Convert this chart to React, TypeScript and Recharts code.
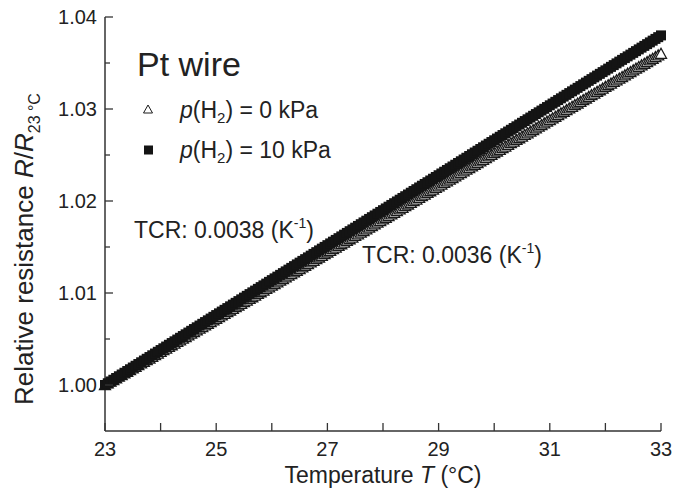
import { ScatterChart, Scatter, XAxis, YAxis } from "recharts";

// temperature (°C), one reading every 0.05 °C
const temps = [
  23.0, 23.05, 23.1, 23.15, 23.2, 23.25, 23.3, 23.35, 23.4, 23.45,
  23.5, 23.55, 23.6, 23.65, 23.7, 23.75, 23.8, 23.85, 23.9, 23.95,
  24.0, 24.05, 24.1, 24.15, 24.2, 24.25, 24.3, 24.35, 24.4, 24.45,
  24.5, 24.55, 24.6, 24.65, 24.7, 24.75, 24.8, 24.85, 24.9, 24.95,
  25.0, 25.05, 25.1, 25.15, 25.2, 25.25, 25.3, 25.35, 25.4, 25.45,
  25.5, 25.55, 25.6, 25.65, 25.7, 25.75, 25.8, 25.85, 25.9, 25.95,
  26.0, 26.05, 26.1, 26.15, 26.2, 26.25, 26.3, 26.35, 26.4, 26.45,
  26.5, 26.55, 26.6, 26.65, 26.7, 26.75, 26.8, 26.85, 26.9, 26.95,
  27.0, 27.05, 27.1, 27.15, 27.2, 27.25, 27.3, 27.35, 27.4, 27.45,
  27.5, 27.55, 27.6, 27.65, 27.7, 27.75, 27.8, 27.85, 27.9, 27.95,
  28.0, 28.05, 28.1, 28.15, 28.2, 28.25, 28.3, 28.35, 28.4, 28.45,
  28.5, 28.55, 28.6, 28.65, 28.7, 28.75, 28.8, 28.85, 28.9, 28.95,
  29.0, 29.05, 29.1, 29.15, 29.2, 29.25, 29.3, 29.35, 29.4, 29.45,
  29.5, 29.55, 29.6, 29.65, 29.7, 29.75, 29.8, 29.85, 29.9, 29.95,
  30.0, 30.05, 30.1, 30.15, 30.2, 30.25, 30.3, 30.35, 30.4, 30.45,
  30.5, 30.55, 30.6, 30.65, 30.7, 30.75, 30.8, 30.85, 30.9, 30.95,
  31.0, 31.05, 31.1, 31.15, 31.2, 31.25, 31.3, 31.35, 31.4, 31.45,
  31.5, 31.55, 31.6, 31.65, 31.7, 31.75, 31.8, 31.85, 31.9, 31.95,
  32.0, 32.05, 32.1, 32.15, 32.2, 32.25, 32.3, 32.35, 32.4, 32.45,
  32.5, 32.55, 32.6, 32.65, 32.7, 32.75, 32.8, 32.85, 32.9, 32.95,
  33.0,
];

// p(H2) = 0 kPa  (open triangles), TCR ≈ 0.0036 /K
const r0kPa = [
  1.0, 1.00018, 1.00036, 1.00054, 1.00072, 1.0009, 1.00108, 1.00126, 1.00144, 1.00162,
  1.0018, 1.00198, 1.00216, 1.00234, 1.00252, 1.0027, 1.00288, 1.00306, 1.00324, 1.00342,
  1.0036, 1.00378, 1.00396, 1.00414, 1.00432, 1.0045, 1.00468, 1.00486, 1.00504, 1.00522,
  1.0054, 1.00558, 1.00576, 1.00594, 1.00612, 1.0063, 1.00648, 1.00666, 1.00684, 1.00702,
  1.0072, 1.00738, 1.00756, 1.00774, 1.00792, 1.0081, 1.00828, 1.00846, 1.00864, 1.00882,
  1.009, 1.00918, 1.00936, 1.00954, 1.00972, 1.0099, 1.01008, 1.01026, 1.01044, 1.01062,
  1.0108, 1.01098, 1.01116, 1.01134, 1.01152, 1.0117, 1.01188, 1.01206, 1.01224, 1.01242,
  1.0126, 1.01278, 1.01296, 1.01314, 1.01332, 1.0135, 1.01368, 1.01386, 1.01404, 1.01422,
  1.0144, 1.01458, 1.01476, 1.01494, 1.01512, 1.0153, 1.01548, 1.01566, 1.01584, 1.01602,
  1.0162, 1.01638, 1.01656, 1.01674, 1.01692, 1.0171, 1.01728, 1.01746, 1.01764, 1.01782,
  1.018, 1.01818, 1.01836, 1.01854, 1.01872, 1.0189, 1.01908, 1.01926, 1.01944, 1.01962,
  1.0198, 1.01998, 1.02016, 1.02034, 1.02052, 1.0207, 1.02088, 1.02106, 1.02124, 1.02142,
  1.0216, 1.02178, 1.02196, 1.02214, 1.02232, 1.0225, 1.02268, 1.02286, 1.02304, 1.02322,
  1.0234, 1.02358, 1.02376, 1.02394, 1.02412, 1.0243, 1.02448, 1.02466, 1.02484, 1.02502,
  1.0252, 1.02538, 1.02556, 1.02574, 1.02592, 1.0261, 1.02628, 1.02646, 1.02664, 1.02682,
  1.027, 1.02718, 1.02736, 1.02754, 1.02772, 1.0279, 1.02808, 1.02826, 1.02844, 1.02862,
  1.0288, 1.02898, 1.02916, 1.02934, 1.02952, 1.0297, 1.02988, 1.03006, 1.03024, 1.03042,
  1.0306, 1.03078, 1.03096, 1.03114, 1.03132, 1.0315, 1.03168, 1.03186, 1.03204, 1.03222,
  1.0324, 1.03258, 1.03276, 1.03294, 1.03312, 1.0333, 1.03348, 1.03366, 1.03384, 1.03402,
  1.0342, 1.03438, 1.03456, 1.03474, 1.03492, 1.0351, 1.03528, 1.03546, 1.03564, 1.03582,
  1.036,
];

// p(H2) = 10 kPa  (filled squares), TCR ≈ 0.0038 /K
const r10kPa = [
  1.0, 1.00019, 1.00038, 1.00057, 1.00076, 1.00095, 1.00114, 1.00133, 1.00152, 1.00171,
  1.0019, 1.00209, 1.00228, 1.00247, 1.00266, 1.00285, 1.00304, 1.00323, 1.00342, 1.00361,
  1.0038, 1.00399, 1.00418, 1.00437, 1.00456, 1.00475, 1.00494, 1.00513, 1.00532, 1.00551,
  1.0057, 1.00589, 1.00608, 1.00627, 1.00646, 1.00665, 1.00684, 1.00703, 1.00722, 1.00741,
  1.0076, 1.00779, 1.00798, 1.00817, 1.00836, 1.00855, 1.00874, 1.00893, 1.00912, 1.00931,
  1.0095, 1.00969, 1.00988, 1.01007, 1.01026, 1.01045, 1.01064, 1.01083, 1.01102, 1.01121,
  1.0114, 1.01159, 1.01178, 1.01197, 1.01216, 1.01235, 1.01254, 1.01273, 1.01292, 1.01311,
  1.0133, 1.01349, 1.01368, 1.01387, 1.01406, 1.01425, 1.01444, 1.01463, 1.01482, 1.01501,
  1.0152, 1.01539, 1.01558, 1.01577, 1.01596, 1.01615, 1.01634, 1.01653, 1.01672, 1.01691,
  1.0171, 1.01729, 1.01748, 1.01767, 1.01786, 1.01805, 1.01824, 1.01843, 1.01862, 1.01881,
  1.019, 1.01919, 1.01938, 1.01957, 1.01976, 1.01995, 1.02014, 1.02033, 1.02052, 1.02071,
  1.0209, 1.02109, 1.02128, 1.02147, 1.02166, 1.02185, 1.02204, 1.02223, 1.02242, 1.02261,
  1.0228, 1.02299, 1.02318, 1.02337, 1.02356, 1.02375, 1.02394, 1.02413, 1.02432, 1.02451,
  1.0247, 1.02489, 1.02508, 1.02527, 1.02546, 1.02565, 1.02584, 1.02603, 1.02622, 1.02641,
  1.0266, 1.02679, 1.02698, 1.02717, 1.02736, 1.02755, 1.02774, 1.02793, 1.02812, 1.02831,
  1.0285, 1.02869, 1.02888, 1.02907, 1.02926, 1.02945, 1.02964, 1.02983, 1.03002, 1.03021,
  1.0304, 1.03059, 1.03078, 1.03097, 1.03116, 1.03135, 1.03154, 1.03173, 1.03192, 1.03211,
  1.0323, 1.03249, 1.03268, 1.03287, 1.03306, 1.03325, 1.03344, 1.03363, 1.03382, 1.03401,
  1.0342, 1.03439, 1.03458, 1.03477, 1.03496, 1.03515, 1.03534, 1.03553, 1.03572, 1.03591,
  1.0361, 1.03629, 1.03648, 1.03667, 1.03686, 1.03705, 1.03724, 1.03743, 1.03762, 1.03781,
  1.038,
];

const xTicks = [23, 24, 25, 26, 27, 28, 29, 30, 31, 32, 33];
const yTicks = [1.0, 1.005, 1.01, 1.015, 1.02, 1.025, 1.03, 1.035, 1.04];

const data0 = temps.map((t, i) => ({ t, r: r0kPa[i] }));
const data10 = temps.map((t, i) => ({ t, r: r10kPa[i] }));

const FONT = "'Liberation Sans', Arial, sans-serif";
const INK = "#222";
const AXIS = "#333";

const BottomTick = (p: any) => {
  const v = p.payload.value;
  return (
    <g>
      <line x1={p.x} y1={p.y} x2={p.x} y2={p.y - 8} stroke={AXIS} strokeWidth={1.3} />
      {v % 2 === 1 && (
        <text x={p.x} y={p.y + 25} textAnchor="middle" fontSize={20} fill={INK} fontFamily={FONT}>
          {v}
        </text>
      )}
    </g>
  );
};

const TopTick = (p: any) => (
  <line x1={p.x} y1={p.y} x2={p.x} y2={p.y + 8} stroke={AXIS} strokeWidth={1.3} />
);

const LeftTick = (p: any) => {
  const v = p.payload.value;
  const major = Math.round(v * 1000) % 10 === 0;
  return (
    <g>
      <line x1={p.x} y1={p.y} x2={p.x + (major ? 8 : 5)} y2={p.y} stroke={AXIS} strokeWidth={1.3} />
      {major && (
        <text x={p.x - 8} y={p.y} dy="0.35em" textAnchor="end" fontSize={20} fill={INK} fontFamily={FONT}>
          {v.toFixed(2)}
        </text>
      )}
    </g>
  );
};

const RightTick = (p: any) => (
  <line x1={p.x} y1={p.y} x2={p.x - 8} y2={p.y} stroke={AXIS} strokeWidth={1.3} />
);

const Square = (p: any) => (
  <rect x={p.cx - 5} y={p.cy - 5} width={10} height={10} fill="#141414" />
);

const Triangle = (p: any) => (
  <path
    d={`M${p.cx},${p.cy - 5.5}L${p.cx + 5.5},${p.cy + 4.5}L${p.cx - 5.5},${p.cy + 4.5}Z`}
    fill="#fff"
    stroke="#1a1a1a"
    strokeWidth={1.3}
  />
);

export default function App() {
  return (
    <div style={{ position: "absolute", left: 0, top: 0, width: 673, height: 495, background: "#fff" }}>
      <ScatterChart width={673} height={495} margin={{ top: 17, right: 12, bottom: 0, left: 0 }}>
        <XAxis
          xAxisId="b"
          type="number"
          dataKey="t"
          domain={[23, 33]}
          ticks={xTicks}
          interval={0}
          height={64}
          tickSize={0}
          tickMargin={0}
          stroke={AXIS}
          strokeWidth={1.5}
          tick={BottomTick}
        />
        <XAxis
          xAxisId="tp"
          orientation="top"
          type="number"
          dataKey="t"
          domain={[23, 33]}
          ticks={xTicks}
          interval={0}
          height={0}
          tickSize={0}
          tickMargin={0}
          stroke={AXIS}
          strokeWidth={1.5}
          tick={TopTick}
        />
        <YAxis
          yAxisId="l"
          type="number"
          dataKey="r"
          domain={[0.995, 1.04]}
          ticks={yTicks}
          interval={0}
          width={105}
          tickSize={0}
          tickMargin={0}
          stroke={AXIS}
          strokeWidth={1.5}
          tick={LeftTick}
        />
        <YAxis
          yAxisId="rt"
          orientation="right"
          type="number"
          dataKey="r"
          domain={[0.995, 1.04]}
          ticks={yTicks}
          interval={0}
          width={0}
          tickSize={0}
          tickMargin={0}
          stroke={AXIS}
          strokeWidth={1.5}
          tick={RightTick}
        />
        <Scatter data={data0} xAxisId="b" yAxisId="l" shape={Triangle} isAnimationActive={false} />
        <Scatter data={data10} xAxisId="b" yAxisId="l" shape={Square} isAnimationActive={false} />
      </ScatterChart>

      <svg
        width={673}
        height={495}
        style={{ position: "absolute", left: 0, top: 0, pointerEvents: "none" }}
        fontFamily={FONT}
        fill={INK}
      >
        <text x={137} y={76} fontSize={34}>Pt wire</text>

        <path d="M148,105L152.5,113L143.5,113Z" fill="#fff" stroke="#1a1a1a" strokeWidth={1} />
        <text x={180} y={118} fontSize={23}>
          <tspan fontStyle="italic">p</tspan>(H<tspan fontSize={15} dy={5}>2</tspan>
          <tspan dy={-5}>) = 0 kPa</tspan>
        </text>
        <rect x={144} y={145.5} width={9} height={9} fill="#141414" />
        <text x={180} y={158} fontSize={23}>
          <tspan fontStyle="italic">p</tspan>(H<tspan fontSize={15} dy={5}>2</tspan>
          <tspan dy={-5}>) = 10 kPa</tspan>
        </text>

        <text x={134} y={238} fontSize={23}>
          TCR: 0.0038 (K<tspan fontSize={14} dy={-10}>-1</tspan>
          <tspan dy={10}>)</tspan>
        </text>
        <text x={362} y={263} fontSize={23}>
          TCR: 0.0036 (K<tspan fontSize={14} dy={-10}>-1</tspan>
          <tspan dy={10}>)</tspan>
        </text>

        <text x={383} y={483} fontSize={23} textAnchor="middle">
          Temperature <tspan fontStyle="italic">T</tspan> (°C)
        </text>

        <text transform="translate(33,249) rotate(-90)" fontSize={26} textAnchor="middle">
          Relative resistance <tspan fontStyle="italic">R</tspan>/<tspan fontStyle="italic">R</tspan>
          <tspan fontSize={16} dy={7}>23 °C</tspan>
        </text>
      </svg>
    </div>
  );
}
